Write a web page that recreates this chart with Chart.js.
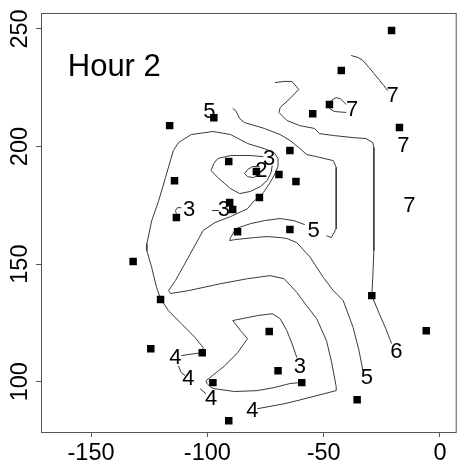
<!DOCTYPE html>
<html><head><meta charset="utf-8">
<style>html,body{margin:0;padding:0;background:#fff;} canvas{display:block;}</style>
<script src="https://cdn.jsdelivr.net/npm/chart.js@4.4.1/dist/chart.umd.min.js"></script>
</head><body>
<canvas id="c" width="462" height="470"></canvas>
<script>
// ---- data ----
const xTicks = [-150, -100, -50, 0];
const yTicks = [100, 150, 200, 250];
const xRange = [-171.5, 7.2];
const yRange = [78.6, 256.8];

const siteX = [-20.8,-42.4,-54.7,-47.5,-17.4,-116.2,-97.2,-64.5,-90.8,-78.9,-69.2,-61.9,-114.1,-77.6,-90.4,-89.1,-113.3,-87.0,-64.5,-131.9,-120.1,-29.3,-5.9,-73.4,-124.3,-102.2,-69.6,-97.6,-59.4,-35.6,-90.8];
const siteY = [249.4,232.3,214.0,217.9,208.1,208.9,212.3,198.3,193.6,189.4,188.1,185.1,185.5,178.3,176.2,173.2,169.8,163.8,164.7,151.1,134.9,136.6,121.7,121.3,114.0,112.3,104.7,99.6,99.6,92.3,83.4];

const contour7a = [[-38.2,238.7],[-35.2,237.9],[-33.1,236.6],[-30.5,233.6],[-28.4,231.1],[-25.9,228.1],[-24.2,226.0],[-22.5,223.8]];
const contour7b = [[-40.3,217.9],[-42.9,220.4],[-44.6,220.8],[-46.7,219.6],[-48.4,217.4],[-47.5,216.2],[-45.4,214.9],[-40.3,214.5]];
const contour6 = [[-70.9,227.2],[-67.0,227.7],[-63.6,227.7],[-60.7,224.3],[-64.5,220.4],[-68.7,216.6],[-69.2,214.5],[-65.8,211.1],[-60.3,208.9],[-53.9,207.7],[-51.8,205.5],[-45.8,204.7],[-37.3,203.8],[-31.8,203.4],[-28.9,201.7],[-28.4,199.6],[-28.4,177.0],[-28.4,155.7],[-28.9,143.8],[-29.3,136.6],[-26.3,129.4],[-23.3,122.6],[-20.8,116.2]];
const contour5a = [[-89.1,216.2],[-87.8,215.3],[-86.1,211.9],[-84.0,210.2],[-75.5,207.7],[-68.7,205.1],[-64.5,202.6],[-60.7,199.6],[-57.3,196.6],[-53.0,195.7],[-45.8,194.0],[-44.6,191.1],[-44.6,188.5],[-44.6,165.1],[-46.7,161.3],[-48.8,162.1]];
const contour5b = [[-58.1,166.8],[-62.8,168.5],[-68.7,169.4],[-75.5,168.5],[-81.5,167.2],[-87.8,165.1],[-90.0,161.3],[-90.4,160.0],[-88.3,160.4],[-79.8,161.3],[-74.3,161.7],[-68.7,161.3],[-65.8,160.9],[-61.5,159.1],[-56.0,153.2],[-50.1,144.3],[-45.8,138.7],[-41.6,134.5],[-37.3,123.0],[-34.8,113.2],[-33.1,104.7]];
const contour4a = [[-78.5,88.5],[-67.0,90.6],[-61.5,91.9],[-44.6,96.2],[-44.6,97.9],[-46.7,108.9],[-48.8,117.5],[-53.0,126.8],[-57.3,132.3],[-61.5,137.9],[-67.0,143.8],[-73.0,145.1],[-82.7,143.8],[-94.2,141.7],[-108.2,138.7],[-115.8,137.5],[-116.7,138.7],[-113.7,143.0],[-108.2,152.8],[-101.8,164.3],[-96.7,167.7],[-90.0,170.2],[-82.7,173.6],[-79.8,177.0],[-77.6,178.3],[-75.9,180.4],[-73.0,184.7],[-70.9,188.5],[-69.6,191.5],[-69.6,194.9],[-71.3,197.4],[-75.5,199.1],[-82.7,201.3],[-90.0,205.1],[-97.6,206.4],[-106.9,205.1],[-112.4,201.7],[-114.6,198.3],[-118.0,186.8],[-120.9,177.0],[-123.9,168.5],[-126.0,158.7],[-126.0,155.7],[-123.9,148.5],[-121.8,140.0],[-120.1,135.3],[-116.7,130.2],[-111.2,124.7],[-105.2,118.7],[-101.8,114.5],[-102.7,112.3],[-111.2,111.1]];
const contour4b = [[-112.4,106.8],[-111.2,103.8],[-109.5,102.6]];
const contour4c = [[-103.1,97.0],[-100.6,94.9]];
const contour3a = [[-61.5,110.2],[-63.6,116.2],[-65.8,121.7],[-68.7,126.8],[-72.1,128.9],[-78.5,128.1],[-89.1,126.0],[-85.7,121.7],[-82.7,118.3],[-87.0,112.3],[-92.5,106.8],[-98.9,101.7],[-100.6,100.4],[-100.1,99.2],[-98.4,97.5],[-96.7,97.0],[-88.3,95.8],[-78.5,96.2],[-71.3,97.5],[-64.5,99.2],[-60.3,99.6]];
const contour3b = [[-75.9,195.7],[-81.5,196.2],[-90.0,196.2],[-95.5,194.9],[-97.2,192.8],[-98.4,189.8],[-95.5,186.8],[-90.0,182.1],[-86.1,180.0],[-81.5,180.9],[-77.2,183.0],[-74.3,185.5],[-72.6,188.9],[-72.1,191.9]];
const contour3c = [[-111.2,174.0],[-112.9,174.0],[-113.7,172.8],[-113.3,171.5]];
const contour3d = [[-98.0,172.8],[-95.0,172.8]];
const contour2 = [[-77.6,191.5],[-80.6,191.5],[-82.7,190.2],[-84.0,188.5],[-82.7,187.2],[-80.2,186.8],[-78.5,187.7]];

const labelText = ["5","3","2","3","3","5","7","7","7","7","6","5","3","4","4","4","4"];
const labelX = [-99.1,-73.4,-76.8,-107.8,-92.9,-54.3,-20.4,-37.8,-15.7,-13.2,-18.7,-31.4,-60.2,-113.7,-108.2,-98.4,-80.6];
const labelY = [214.9,194.9,189.8,173.2,173.2,164.3,221.7,215.7,200.4,174.9,112.8,101.7,106.4,110.2,101.3,92.8,87.7];

const panelTitle = "Hour 2";
const titleX = -160.0;
const titleY = 230.2;

// ---- chart ----
const FONT = '"Liberation Sans", Arial, Helvetica, sans-serif';
const contours = [contour7a, contour7b, contour6, contour5a, contour5b, contour4a, contour4b, contour4c, contour3a, contour3b, contour3c, contour3d, contour2];

const datasets = [{
  data: siteX.map((v, i) => ({x: v, y: siteY[i]})),
  showLine: false,
  pointStyle: 'rect',
  pointRadius: 5.3,
  pointBorderWidth: 0,
  pointBackgroundColor: '#000',
  pointBorderColor: '#000'
}];
contours.forEach(c => datasets.push({
  data: c.map(p => ({x: p[0], y: p[1]})),
  showLine: true,
  borderColor: '#3a3a3a',
  borderWidth: 1,
  pointRadius: 0,
  tension: 0,
  fill: false
}));

const overlay = {
  id: 'overlay',
  afterDatasetsDraw(chart) {
    const {ctx, chartArea: a, scales: {x, y}} = chart;
    ctx.save();
    ctx.fillStyle = '#000';
    ctx.font = '22px ' + FONT;
    ctx.textAlign = 'center';
    ctx.textBaseline = 'middle';
    labelText.forEach((t, i) => ctx.fillText(t, x.getPixelForValue(labelX[i]), y.getPixelForValue(labelY[i])));
    ctx.font = '31px ' + FONT;
    ctx.textAlign = 'left';
    ctx.textBaseline = 'alphabetic';
    ctx.fillText(panelTitle, x.getPixelForValue(titleX), y.getPixelForValue(titleY));
    ctx.strokeStyle = '#555';
    ctx.lineWidth = 1;
    ctx.strokeRect(a.left + 0.5, a.top + 0.5, a.right - a.left - 1, a.bottom - a.top);
    ctx.restore();
  }
};

new Chart(document.getElementById('c'), {
  type: 'scatter',
  data: {datasets},
  options: {
    responsive: false,
    animation: false,
    devicePixelRatio: 1,
    layout: {padding: {top: 13, right: 0, left: 0, bottom: 0}},
    plugins: {legend: {display: false}, tooltip: {enabled: false}, title: {display: false}},
    scales: {
      x: {
        type: 'linear', min: xRange[0], max: xRange[1],
        afterBuildTicks: s => { s.ticks = xTicks.map(v => ({value: v})); },
        afterFit: s => { s.height = 38; },
        border: {display: false},
        grid: {drawOnChartArea: false, drawTicks: true, tickLength: 5, color: '#555'},
        ticks: {autoSkip: false, padding: 2, color: '#000', font: {family: FONT, size: 23.5}, maxRotation: 0, minRotation: 0}
      },
      y: {
        type: 'linear', min: yRange[0], max: yRange[1],
        afterBuildTicks: s => { s.ticks = yTicks.map(v => ({value: v})); },
        afterFit: s => { s.width = 41; },
        border: {display: false},
        grid: {drawOnChartArea: false, drawTicks: true, tickLength: 5, color: '#555'},
        ticks: {autoSkip: false, padding: -4, crossAlign: 'center', minRotation: 90, maxRotation: 90, color: '#000', font: {family: FONT, size: 23.5}}
      }
    }
  },
  plugins: [overlay]
});
</script>
</body></html>
